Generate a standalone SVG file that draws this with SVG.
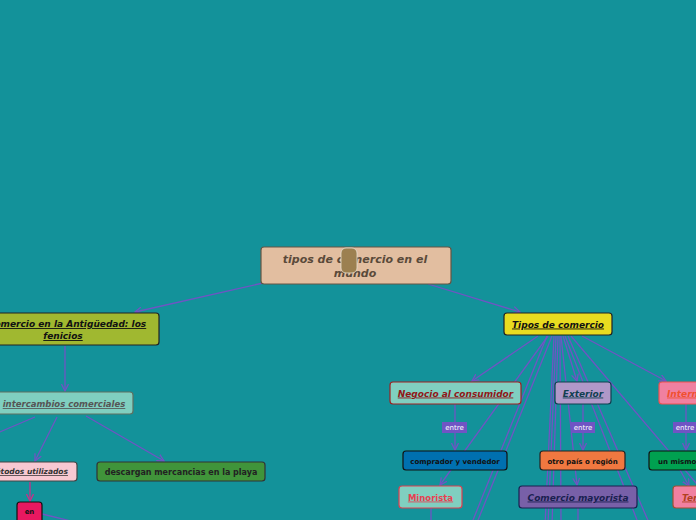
<svg xmlns="http://www.w3.org/2000/svg" width="696" height="520" viewBox="0 0 696 520">
<defs>
<marker id="ah" markerWidth="8" markerHeight="8" refX="7" refY="4" orient="auto" markerUnits="userSpaceOnUse">
<path d="M0,0.5 L7,4 L0,7.5" fill="none" stroke="#7054c4" stroke-width="1.3"/>
</marker>
<marker id="ahm" markerWidth="8" markerHeight="8" refX="7" refY="4" orient="auto" markerUnits="userSpaceOnUse">
<path d="M0,0.5 L7,4 L0,7.5" fill="none" stroke="#c8308a" stroke-width="1.3"/>
</marker>
</defs>
<style>
.c{stroke:#7054c4;stroke-width:1.3;fill:none}
.a{marker-end:url(#ah)}
text{font-family:"DejaVu Sans","Verdana",sans-serif;font-weight:bold;text-anchor:middle}
.it{font-style:italic;text-decoration:underline}
.st{text-anchor:start}
.box{stroke-width:1.2}
.entre rect{fill:#7054c4}
.entre text{fill:#ffffff;font-weight:normal;font-size:7px}
</style>
<rect width="696" height="520" fill="#13929a"/>
<g id="connectors">
<line class="c a" x1="263" y1="283" x2="135" y2="312"/>
<line class="c a" x1="428" y1="284" x2="520" y2="312"/>
<line class="c a" x1="65" y1="346" x2="65" y2="391"/>
<line class="c" x1="35" y1="417" x2="-5" y2="434"/>
<line class="c a" x1="57" y1="417" x2="35" y2="461"/>
<line class="c a" x1="86" y1="416" x2="164" y2="461"/>
<line x1="30" y1="482" x2="30" y2="501" stroke="#c8308a" stroke-width="1.3" marker-end="url(#ahm)"/>
<line class="c" x1="42" y1="514" x2="75" y2="522"/>
<line class="c a" x1="538" y1="336" x2="472" y2="381"/>
<line class="c a" x1="548" y1="336" x2="440" y2="485"/>
<line class="c" x1="547" y1="336" x2="465" y2="540"/>
<line class="c" x1="552" y1="336" x2="470" y2="540"/>
<line class="c" x1="554" y1="336" x2="545" y2="525"/>
<line class="c" x1="556" y1="336" x2="548" y2="525"/>
<line class="c" x1="558" y1="336" x2="552" y2="525"/>
<line class="c" x1="560" y1="336" x2="561" y2="525"/>
<line class="c a" x1="563" y1="336" x2="577" y2="381"/>
<line class="c a" x1="561" y1="336" x2="577" y2="485"/>
<line class="c" x1="565" y1="336" x2="639" y2="525"/>
<line class="c" x1="568" y1="336" x2="650" y2="525"/>
<line class="c" x1="571" y1="336" x2="702" y2="490"/>
<line class="c a" x1="582" y1="336" x2="666" y2="381"/>
<line class="c a" x1="455" y1="404" x2="455" y2="450"/>
<line class="c a" x1="583" y1="404" x2="583" y2="450"/>
<line class="c a" x1="686" y1="404" x2="686" y2="450"/>
<line class="c a" x1="680" y1="470" x2="689" y2="486"/>
<line class="c" x1="431" y1="508" x2="431" y2="525"/>
<line class="c" x1="578" y1="508" x2="578" y2="525"/>
</g>
<g id="n-central">
<rect class="box" x="261" y="247" width="190" height="37" rx="3" fill="#e2bea0" stroke="#665544"/>
<text x="355" y="263" font-size="11" font-style="italic" fill="#5a4a3a">tipos de comercio en el</text>
<text x="355" y="277" font-size="11" font-style="italic" fill="#5a4a3a">mundo</text>
<rect x="341" y="248" width="16" height="25" rx="5" fill="#9c8050" stroke="#e8e0d0" stroke-width="0.8"/>
</g>
<g id="n-fenicios">
<rect class="box" x="-40" y="313" width="199" height="32" rx="3" fill="#a0b830" stroke="#222222"/>
<text class="it" x="67" y="327" font-size="9" fill="#111111">Comercio en la Antigüedad: los</text>
<text class="it" x="63" y="339" font-size="9" fill="#111111">fenicios</text>
</g>
<g id="n-intercambios">
<rect class="box" x="-10" y="392" width="143" height="22" rx="3" fill="#80cfc0" stroke="#607060"/>
<text class="it" x="64" y="407" font-size="8.5" fill="#555555">intercambios comerciales</text>
</g>
<g id="n-metodos">
<rect class="box" x="-20" y="462" width="97" height="19" rx="3" fill="#f8c8d2" stroke="#444444"/>
<text class="it" x="28" y="474" font-size="7.5" fill="#333333">Métodos utilizados</text>
</g>
<g id="n-descargan">
<rect class="box" x="97" y="462" width="168" height="19" rx="3" fill="#40943a" stroke="#333333"/>
<text x="181" y="475" font-size="8" fill="#222222">descargan mercancias en la playa</text>
</g>
<g id="n-en">
<rect class="box" x="17" y="502" width="25" height="24" rx="3" fill="#e81860" stroke="#111111"/>
<text x="29.5" y="514" font-size="7" fill="#111111">en</text>
</g>
<g id="n-tipos">
<rect class="box" x="504" y="313" width="108" height="22" rx="3" fill="#e8dc20" stroke="#222222"/>
<text class="it" x="558" y="327.5" font-size="9" fill="#111111">Tipos de comercio</text>
</g>
<g id="n-negocio">
<rect class="box" x="390" y="382" width="131" height="22" rx="3" fill="#80cfc0" stroke="#a02020"/>
<text class="it" x="455.5" y="396.5" font-size="9" fill="#901818">Negocio al consumidor</text>
</g>
<g id="n-exterior">
<rect class="box" x="555" y="382" width="56" height="22" rx="3" fill="#b098c8" stroke="#104050"/>
<text class="it" x="583" y="396.5" font-size="9" fill="#104050">Exterior</text>
</g>
<g id="n-internacional">
<rect class="box" x="659" y="382" width="90" height="22" rx="3" fill="#f080a0" stroke="#f05050"/>
<text class="it st" x="667" y="396.5" font-size="9" fill="#f05030">Internacional</text>
</g>
<g id="e1" class="entre">
<rect x="442" y="422" width="25" height="11"/>
<text x="454.5" y="430">entre</text>
</g>
<g id="e2" class="entre">
<rect x="571" y="422" width="24" height="11"/>
<text x="583" y="430">entre</text>
</g>
<g id="e3" class="entre">
<rect x="673" y="422" width="24" height="11"/>
<text x="685" y="430">entre</text>
</g>
<g id="n-comprador">
<rect class="box" x="403" y="451" width="104" height="19" rx="3" fill="#0070b0" stroke="#111111"/>
<text x="455" y="463.5" font-size="7" fill="#111111">comprador y vendedor</text>
</g>
<g id="n-otro">
<rect class="box" x="540" y="451" width="85" height="19" rx="3" fill="#f07840" stroke="#222222"/>
<text x="582.5" y="463.5" font-size="7" fill="#111111">otro país o región</text>
</g>
<g id="n-mismo">
<rect class="box" x="649" y="451" width="100" height="19" rx="3" fill="#00a050" stroke="#111111"/>
<text class="st" x="658" y="463.5" font-size="7" fill="#111111">un mismo país</text>
</g>
<g id="n-minorista">
<rect class="box" x="399" y="486" width="63" height="22" rx="3" fill="#80cfc0" stroke="#e04050"/>
<text x="430.5" y="500.5" font-size="8.5" fill="#e84050" text-decoration="underline">Minorista</text>
</g>
<g id="n-mayorista">
<rect class="box" x="519" y="486" width="118" height="22" rx="3" fill="#7860a8" stroke="#1a2050"/>
<text class="it" x="578" y="500.5" font-size="9" fill="#1a2050">Comercio mayorista</text>
</g>
<g id="n-terrestre">
<rect class="box" x="673" y="486" width="70" height="22" rx="3" fill="#f080a0" stroke="#a05030"/>
<text class="it st" x="682" y="500.5" font-size="9" fill="#b04020">Terrestre</text>
</g>
</svg>
